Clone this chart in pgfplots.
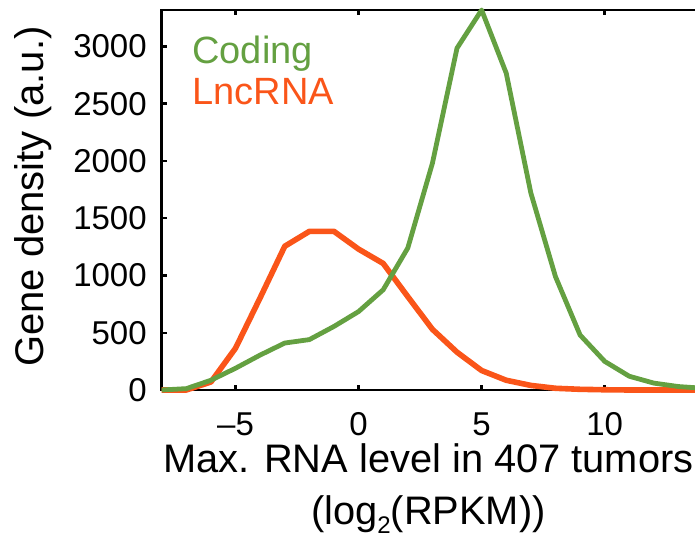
\documentclass[border=0pt]{standalone}
\usepackage{fontspec}
\setmainfont{Liberation Sans}
\usepackage{pgfplots}
\pgfplotsset{compat=1.18}
\definecolor{codgreen}{RGB}{100,160,65}
\definecolor{lncred}{RGB}{250,85,25}

\begin{document}
\begin{tikzpicture}
  \begin{axis}[
    scale only axis,
    width=266.65pt,
    height=190pt,
    xmin=-8, xmax=13.67,
    ymin=0, ymax=3318,
    clip=false,
    axis lines=none,
  ]
    % frame: bottom, left, top (right side is outside the crop)
    \draw[line width=1.2pt, black, line cap=rect]
      (axis cs:13.67,0) -- (axis cs:-8,0) -- (axis cs:-8,3318) -- (axis cs:13.67,3318);
    % inward ticks
    \pgfplotsinvokeforeach{-5,0,5,10}{
      \draw[line width=1.2pt, black] (axis cs:#1,0) -- (axis cs:#1,45);
      \draw[line width=1.2pt, black] (axis cs:#1,3318) -- (axis cs:#1,3273);
    }
    \pgfplotsinvokeforeach{500,1000,1500,2000,2500,3000}{
      \draw[line width=1.2pt, black] (axis cs:-8,#1) -- (axis cs:-7.8,#1);
    }
    % tick labels
    \node[anchor=north, inner sep=0pt, yshift=-11pt, font=\fontsize{16.5}{18}\selectfont] at (axis cs:-5,0) {–5};
    \node[anchor=north, inner sep=0pt, yshift=-11pt, font=\fontsize{16.5}{18}\selectfont] at (axis cs:0,0) {0};
    \node[anchor=north, inner sep=0pt, yshift=-11pt, font=\fontsize{16.5}{18}\selectfont] at (axis cs:5,0) {5};
    \node[anchor=north, inner sep=0pt, yshift=-11pt, font=\fontsize{16.5}{18}\selectfont] at (axis cs:10,0) {10};
    \pgfplotsinvokeforeach{0,500,1000,1500,2000,2500,3000}{
      \node[anchor=east, inner sep=0pt, xshift=-7.3pt, font=\fontsize{16.5}{18}\selectfont] at (axis cs:-8,#1) {#1};
    }
    % axis labels
    \node[align=center, anchor=north, inner sep=0pt, font=\fontsize{19.9}{26}\selectfont]
      at (axis description cs:0.5,-0.1395)
      {Max. RNA level in 407 tumors\\(log\raisebox{-0.45ex}{\fontsize{12}{12}\selectfont 2}(RPKM))};
    \node[rotate=90, anchor=base, inner sep=0pt, font=\fontsize{20}{24}\selectfont]
      at (axis description cs:-0.2207,0.509) {Gene density (a.u.)};
    \addplot[lncred, line width=2.8pt, line join=round] coordinates {
      (-8,0) (-7,0) (-6,70) (-5,365) (-4,805) (-3,1255) (-2,1385) (-1,1385)
      (0,1230) (1,1105) (2,815) (3,530) (4,330) (5,170) (6,85) (7,40)
      (8,15) (9,6) (10,2) (11,0) (12,0) (13,0) (13.67,0)
    };
    \addplot[codgreen, line width=2.4pt, line join=round] coordinates {
      (-8,0) (-7,12) (-6,85) (-5,190) (-4,305) (-3,410) (-2,440) (-1,555)
      (0,685) (1,875) (2,1240) (3,1980) (4,2985) (5,3318) (6,2766) (7,1720)
      (8,990) (9,480) (10,250) (11,120) (12,60) (13,30) (13.67,20)
    };
    \node[anchor=base west, inner sep=0pt, text=codgreen, font=\fontsize{19}{22}\selectfont]
      at (axis cs:-6.77,2853) {Coding};
    \node[anchor=base west, inner sep=0pt, text=lncred, font=\fontsize{19}{22}\selectfont]
      at (axis cs:-6.77,2489) {LncRNA};
    \coordinate (sw) at (rel axis cs:0,0);
    \coordinate (ne) at (rel axis cs:1,1);
  \end{axis}
  \pgfresetboundingbox
  \useasboundingbox ([xshift=-80.85pt,yshift=-72pt]sw) rectangle ([yshift=5pt]ne);
\end{tikzpicture}
\end{document}
